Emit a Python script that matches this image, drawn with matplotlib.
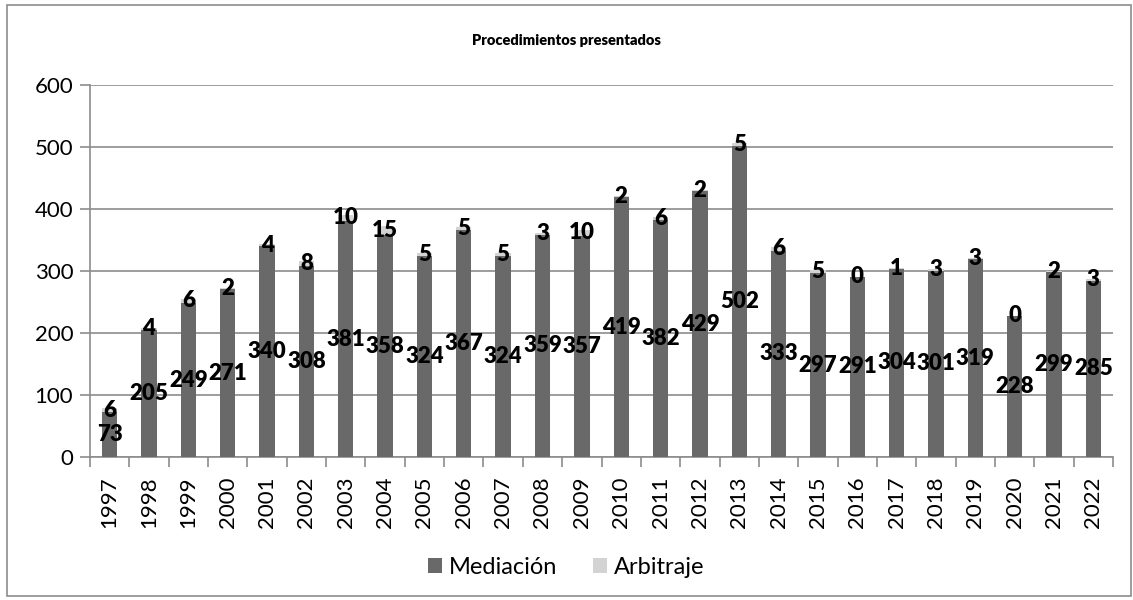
import numpy as np
import matplotlib
matplotlib.use("Agg")
from matplotlib import pyplot as plt
from matplotlib.patches import Rectangle

plt.rcParams['font.family'] = ['Lato', 'DejaVu Sans']

# Data
years = [str(y) for y in range(1997, 2023)]
mediacion = [73, 205, 249, 271, 340, 308, 381, 358, 324, 367, 324, 359, 357,
             419, 382, 429, 502, 333, 297, 291, 304, 301, 319, 228, 299, 285]
arbitraje = [6, 4, 6, 2, 4, 8, 10, 15, 5, 5, 5, 3, 10,
             2, 6, 2, 5, 6, 5, 0, 1, 3, 3, 0, 2, 3]

dark = "#696969"
light = "#d3d3d3"
grid_c = "#8c8c8c"

fig = plt.figure(figsize=(11.33, 6), dpi=100)
ax = fig.add_axes([0.0794, 0.238, 0.903, 0.62])

x = np.arange(len(years))
w = 0.39
b1 = ax.bar(x, mediacion, w, color=dark, label="Mediación", zorder=3)
b2 = ax.bar(x, arbitraje, w, bottom=mediacion, color=light, label="Arbitraje", zorder=3)

ax.bar_label(b1, labels=[str(v) for v in mediacion], label_type='center',
             fontsize=16, fontweight='heavy', color='black', zorder=5)
ax.bar_label(b2, labels=[str(v) for v in arbitraje], label_type='center',
             fontsize=16, fontweight='heavy', color='black', zorder=5)

ax.set_ylim(0, 600)
ax.set_xlim(-0.5, len(years) - 0.5)
ax.set_yticks(range(0, 601, 100))
ax.yaxis.grid(True, color=grid_c, linewidth=1.2, zorder=0)
ax.set_xticks(x)
ax.set_xticklabels(years, rotation=90)
ax.set_xticks(np.arange(-0.5, len(years), 1), minor=True)
ax.tick_params(axis='x', which='major', length=0, labelsize=16, pad=14)
ax.tick_params(axis='x', which='minor', length=7, color=grid_c, width=1.2)
ax.tick_params(axis='y', length=7, color=grid_c, width=1.2, labelsize=16, pad=5)

for s in ['top', 'right']:
    ax.spines[s].set_visible(False)
for s in ['left', 'bottom']:
    ax.spines[s].set_color(grid_c)
    ax.spines[s].set_linewidth(1.2)

fig.text(0.5, 0.932, "Procedimientos presentados", ha='center', va='center',
         fontsize=10.5, fontweight='heavy')

fig.legend(handles=[b1, b2], loc='center', bbox_to_anchor=(0.5, 0.055), ncol=2,
           frameon=False, fontsize=17, handlelength=0.6, handleheight=0.6,
           handletextpad=0.3, columnspacing=1.5)

fig.patches.append(Rectangle((0.006, 0.006), 0.992, 0.986, transform=fig.transFigure,
                             fill=False, edgecolor="#8c8c8c", linewidth=1.2))

fig.savefig("out.png", dpi=100)
